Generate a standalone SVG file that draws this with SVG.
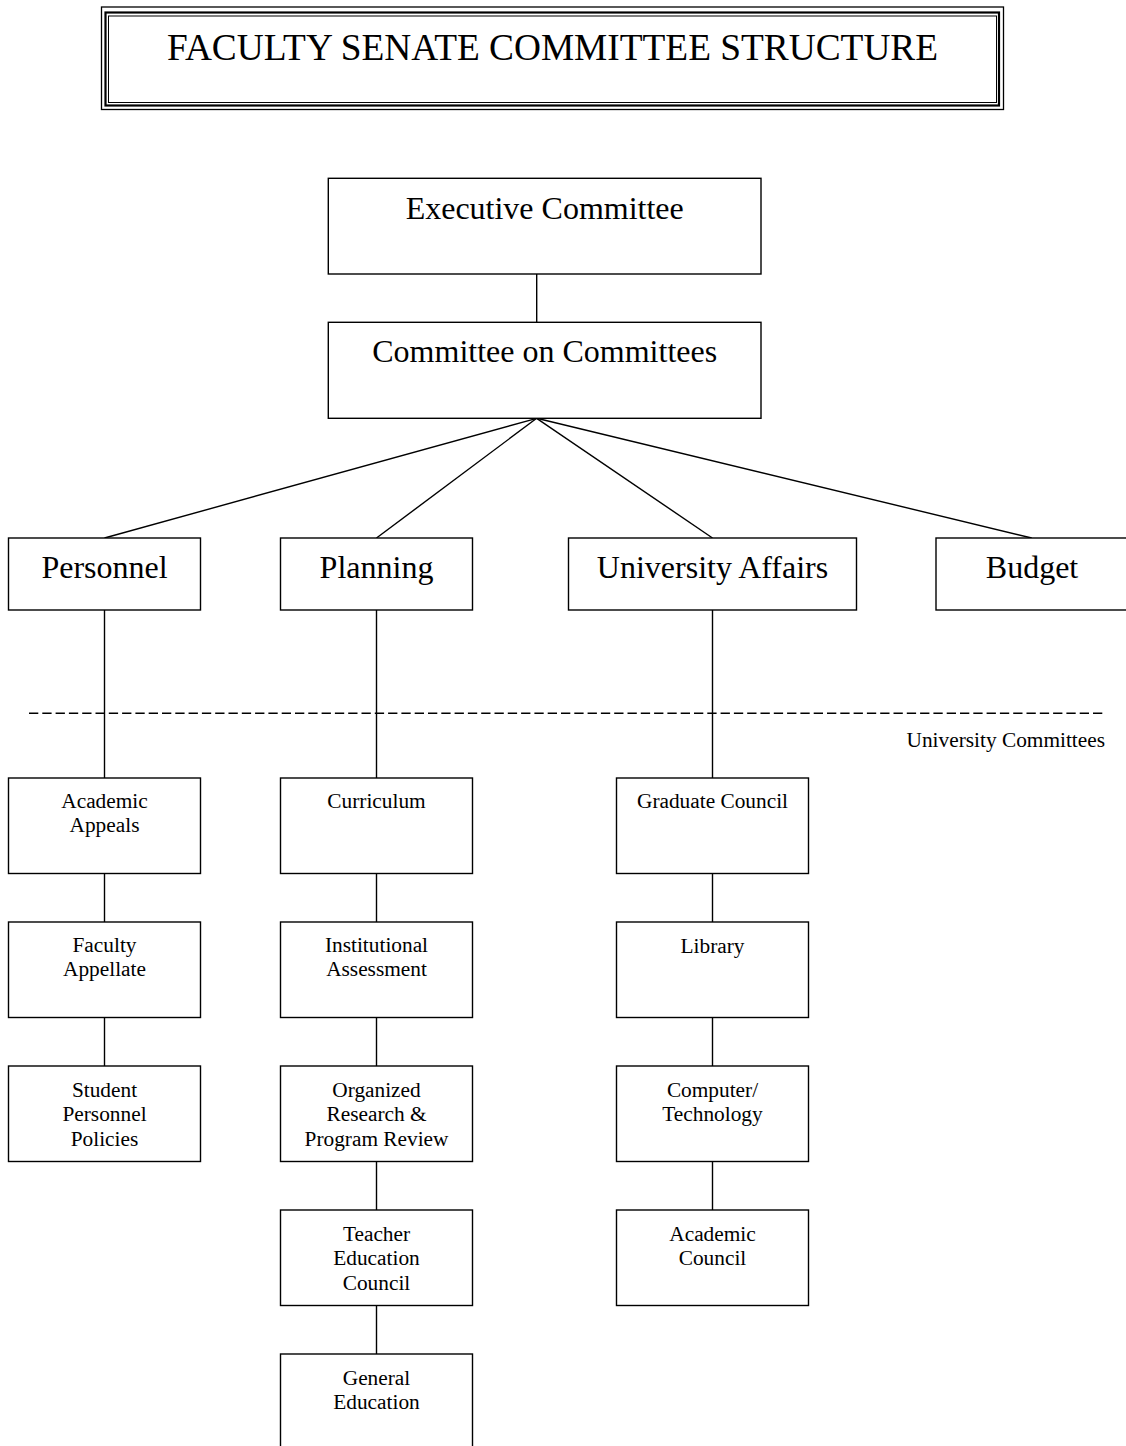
<svg xmlns="http://www.w3.org/2000/svg" width="1126" height="1446" viewBox="0 0 1126 1446">
<style>
  .box { fill: #fff; stroke: #000; stroke-width: 1.4; }
  .conn line { stroke: #000; stroke-width: 1.4; }
  text { font-family: "Liberation Serif", "Times New Roman", serif; fill: #000; text-anchor: middle; }
  .big { font-size: 32px; }
  .small { font-size: 21.33px; }
  .title { font-size: 37.33px; }
</style>
<rect width="1126" height="1446" fill="#fff"/>

<g id="title">
  <rect x="101.5" y="7" width="902" height="102.5" fill="none" stroke="#000" stroke-width="1.3"/>
  <rect x="105.5" y="12.5" width="893.5" height="93" fill="none" stroke="#000" stroke-width="2.2"/>
  <rect x="108.5" y="16" width="888" height="86.5" fill="none" stroke="#000" stroke-width="1"/>
  <text class="title" x="552.5" y="59.5">FACULTY SENATE COMMITTEE STRUCTURE</text>
</g>

<g id="connectors" class="conn">
  <line x1="536.7" y1="274" x2="536.7" y2="322.3"/>
  <line x1="536.7" y1="418.3" x2="104.5" y2="538"/>
  <line x1="536.7" y1="418.3" x2="376.5" y2="538"/>
  <line x1="536.7" y1="418.3" x2="712.5" y2="538"/>
  <line x1="536.7" y1="418.3" x2="1031.7" y2="538"/>
  <line x1="104.5" y1="610" x2="104.5" y2="778"/>
  <line x1="376.5" y1="610" x2="376.5" y2="778"/>
  <line x1="712.5" y1="610" x2="712.5" y2="778"/>
  <line x1="104.5" y1="873.5" x2="104.5" y2="922"/>
  <line x1="104.5" y1="1017.5" x2="104.5" y2="1066"/>
  <line x1="376.5" y1="873.5" x2="376.5" y2="922"/>
  <line x1="376.5" y1="1017.5" x2="376.5" y2="1066"/>
  <line x1="376.5" y1="1161.5" x2="376.5" y2="1210"/>
  <line x1="376.5" y1="1305.5" x2="376.5" y2="1354"/>
  <line x1="712.5" y1="873.5" x2="712.5" y2="922"/>
  <line x1="712.5" y1="1017.5" x2="712.5" y2="1066"/>
  <line x1="712.5" y1="1161.5" x2="712.5" y2="1210"/>
</g>

<g id="divider">
  <line x1="29" y1="713.3" x2="1104" y2="713.3" stroke="#000" stroke-width="1.4" stroke-dasharray="9.3 4"/>
  <text class="small" x="1105" y="746.5" style="text-anchor:end">University Committees</text>
</g>

<g id="executive">
  <rect class="box" x="328.3" y="178.3" width="432.7" height="95.7"/>
  <text class="big" x="544.7" y="219.3">Executive Committee</text>
</g>
<g id="committee-on-committees">
  <rect class="box" x="328.3" y="322.3" width="432.7" height="96"/>
  <text class="big" x="544.7" y="361.7">Committee on Committees</text>
</g>

<g id="personnel">
  <rect class="box" x="8.5" y="538" width="192" height="72"/>
  <text class="big" x="104.5" y="578.3">Personnel</text>
</g>
<g id="planning">
  <rect class="box" x="280.5" y="538" width="192" height="72"/>
  <text class="big" x="376.5" y="578.3">Planning</text>
</g>
<g id="university-affairs">
  <rect class="box" x="568.5" y="538" width="288" height="72"/>
  <text class="big" x="712.5" y="578.3">University Affairs</text>
</g>
<g id="budget">
  <rect class="box" x="936" y="538" width="194" height="72"/>
  <text class="big" x="1032" y="578.3">Budget</text>
</g>

<g id="academic-appeals">
  <rect class="box" x="8.5" y="778" width="192" height="95.5"/>
  <text class="small" x="104.5" y="808">Academic</text>
  <text class="small" x="104.5" y="832.4">Appeals</text>
</g>
<g id="faculty-appellate">
  <rect class="box" x="8.5" y="922" width="192" height="95.5"/>
  <text class="small" x="104.5" y="952">Faculty</text>
  <text class="small" x="104.5" y="976.4">Appellate</text>
</g>
<g id="student-personnel-policies">
  <rect class="box" x="8.5" y="1066" width="192" height="95.5"/>
  <text class="small" x="104.5" y="1096.7">Student</text>
  <text class="small" x="104.5" y="1121.1">Personnel</text>
  <text class="small" x="104.5" y="1145.5">Policies</text>
</g>

<g id="curriculum">
  <rect class="box" x="280.5" y="778" width="192" height="95.5"/>
  <text class="small" x="376.5" y="808">Curriculum</text>
</g>
<g id="institutional-assessment">
  <rect class="box" x="280.5" y="922" width="192" height="95.5"/>
  <text class="small" x="376.5" y="952">Institutional</text>
  <text class="small" x="376.5" y="976.4">Assessment</text>
</g>
<g id="organized-research">
  <rect class="box" x="280.5" y="1066" width="192" height="95.5"/>
  <text class="small" x="376.5" y="1096.7">Organized</text>
  <text class="small" x="376.5" y="1121.1">Research &amp;</text>
  <text class="small" x="376.5" y="1145.5">Program Review</text>
</g>
<g id="teacher-education-council">
  <rect class="box" x="280.5" y="1210" width="192" height="95.5"/>
  <text class="small" x="376.5" y="1240.7">Teacher</text>
  <text class="small" x="376.5" y="1265.1">Education</text>
  <text class="small" x="376.5" y="1289.5">Council</text>
</g>
<g id="general-education">
  <rect class="box" x="280.5" y="1354" width="192" height="110"/>
  <text class="small" x="376.5" y="1384.7">General</text>
  <text class="small" x="376.5" y="1409.1">Education</text>
</g>

<g id="graduate-council">
  <rect class="box" x="616.5" y="778" width="192" height="95.5"/>
  <text class="small" x="712.5" y="808">Graduate Council</text>
</g>
<g id="library">
  <rect class="box" x="616.5" y="922" width="192" height="95.5"/>
  <text class="small" x="712.5" y="952.5">Library</text>
</g>
<g id="computer-technology">
  <rect class="box" x="616.5" y="1066" width="192" height="95.5"/>
  <text class="small" x="712.5" y="1096.7">Computer/</text>
  <text class="small" x="712.5" y="1121.1">Technology</text>
</g>
<g id="academic-council">
  <rect class="box" x="616.5" y="1210" width="192" height="95.5"/>
  <text class="small" x="712.5" y="1240.7">Academic</text>
  <text class="small" x="712.5" y="1265.1">Council</text>
</g>
</svg>
